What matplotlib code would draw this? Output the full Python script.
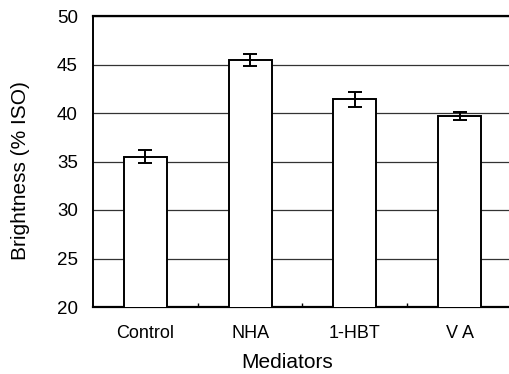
import numpy as np
from matplotlib import pyplot as plt

mediators = ['Control', 'NHA', '1-HBT', 'V A']
brightness = [35.5, 45.45, 41.4, 39.7]
brightness_err = [0.7, 0.65, 0.8, 0.4]

plt.rcParams['font.family'] = ['Liberation Sans', 'DejaVu Sans']

fig = plt.figure(figsize=(5.10, 3.74), dpi=100)
# axes run past the right edge of the figure, so no right frame shows
ax = fig.add_axes([93 / 510, 67 / 374, 419 / 510, 291 / 374])

x = np.arange(len(mediators))
ax.bar(x, brightness, width=0.41, color='white', edgecolor='black',
       linewidth=1.4, zorder=3)
ax.errorbar(x, brightness, yerr=brightness_err, fmt='none', ecolor='black',
            elinewidth=1.4, capsize=5, capthick=1.4, zorder=4)

ax.set_xlim(-0.5, len(mediators) - 0.5)
ax.set_ylim(20, 50)
ax.set_yticks(np.arange(20, 51, 5))
ax.yaxis.grid(True, color='#333333', linewidth=0.9)
ax.set_axisbelow(True)

ax.set_xticks(x)
ax.set_xticklabels(mediators)
ax.set_xticks(x[:-1] + 0.5, minor=True)
ax.tick_params(axis='x', which='major', length=0, pad=13, labelsize=13)
ax.tick_params(axis='x', which='minor', direction='in', length=3, width=1)
ax.tick_params(axis='y', length=0, pad=11, labelsize=13.5)

ax.spines['right'].set_visible(False)
ax.spines['top'].set_linewidth(1.6)
ax.spines['left'].set_linewidth(1.4)
ax.spines['bottom'].set_linewidth(1.6)

ax.set_xlabel('Mediators', fontsize=15, va='center')
ax.xaxis.set_label_coords((287 - 93) / 419, -(362 - 307) / 291)
ax.set_ylabel('Brightness (% ISO)', fontsize=15, va='center')
ax.yaxis.set_label_coords(-(93 - 21) / 419, (307 - 171) / 291)

plt.savefig('out.png', dpi=100)
